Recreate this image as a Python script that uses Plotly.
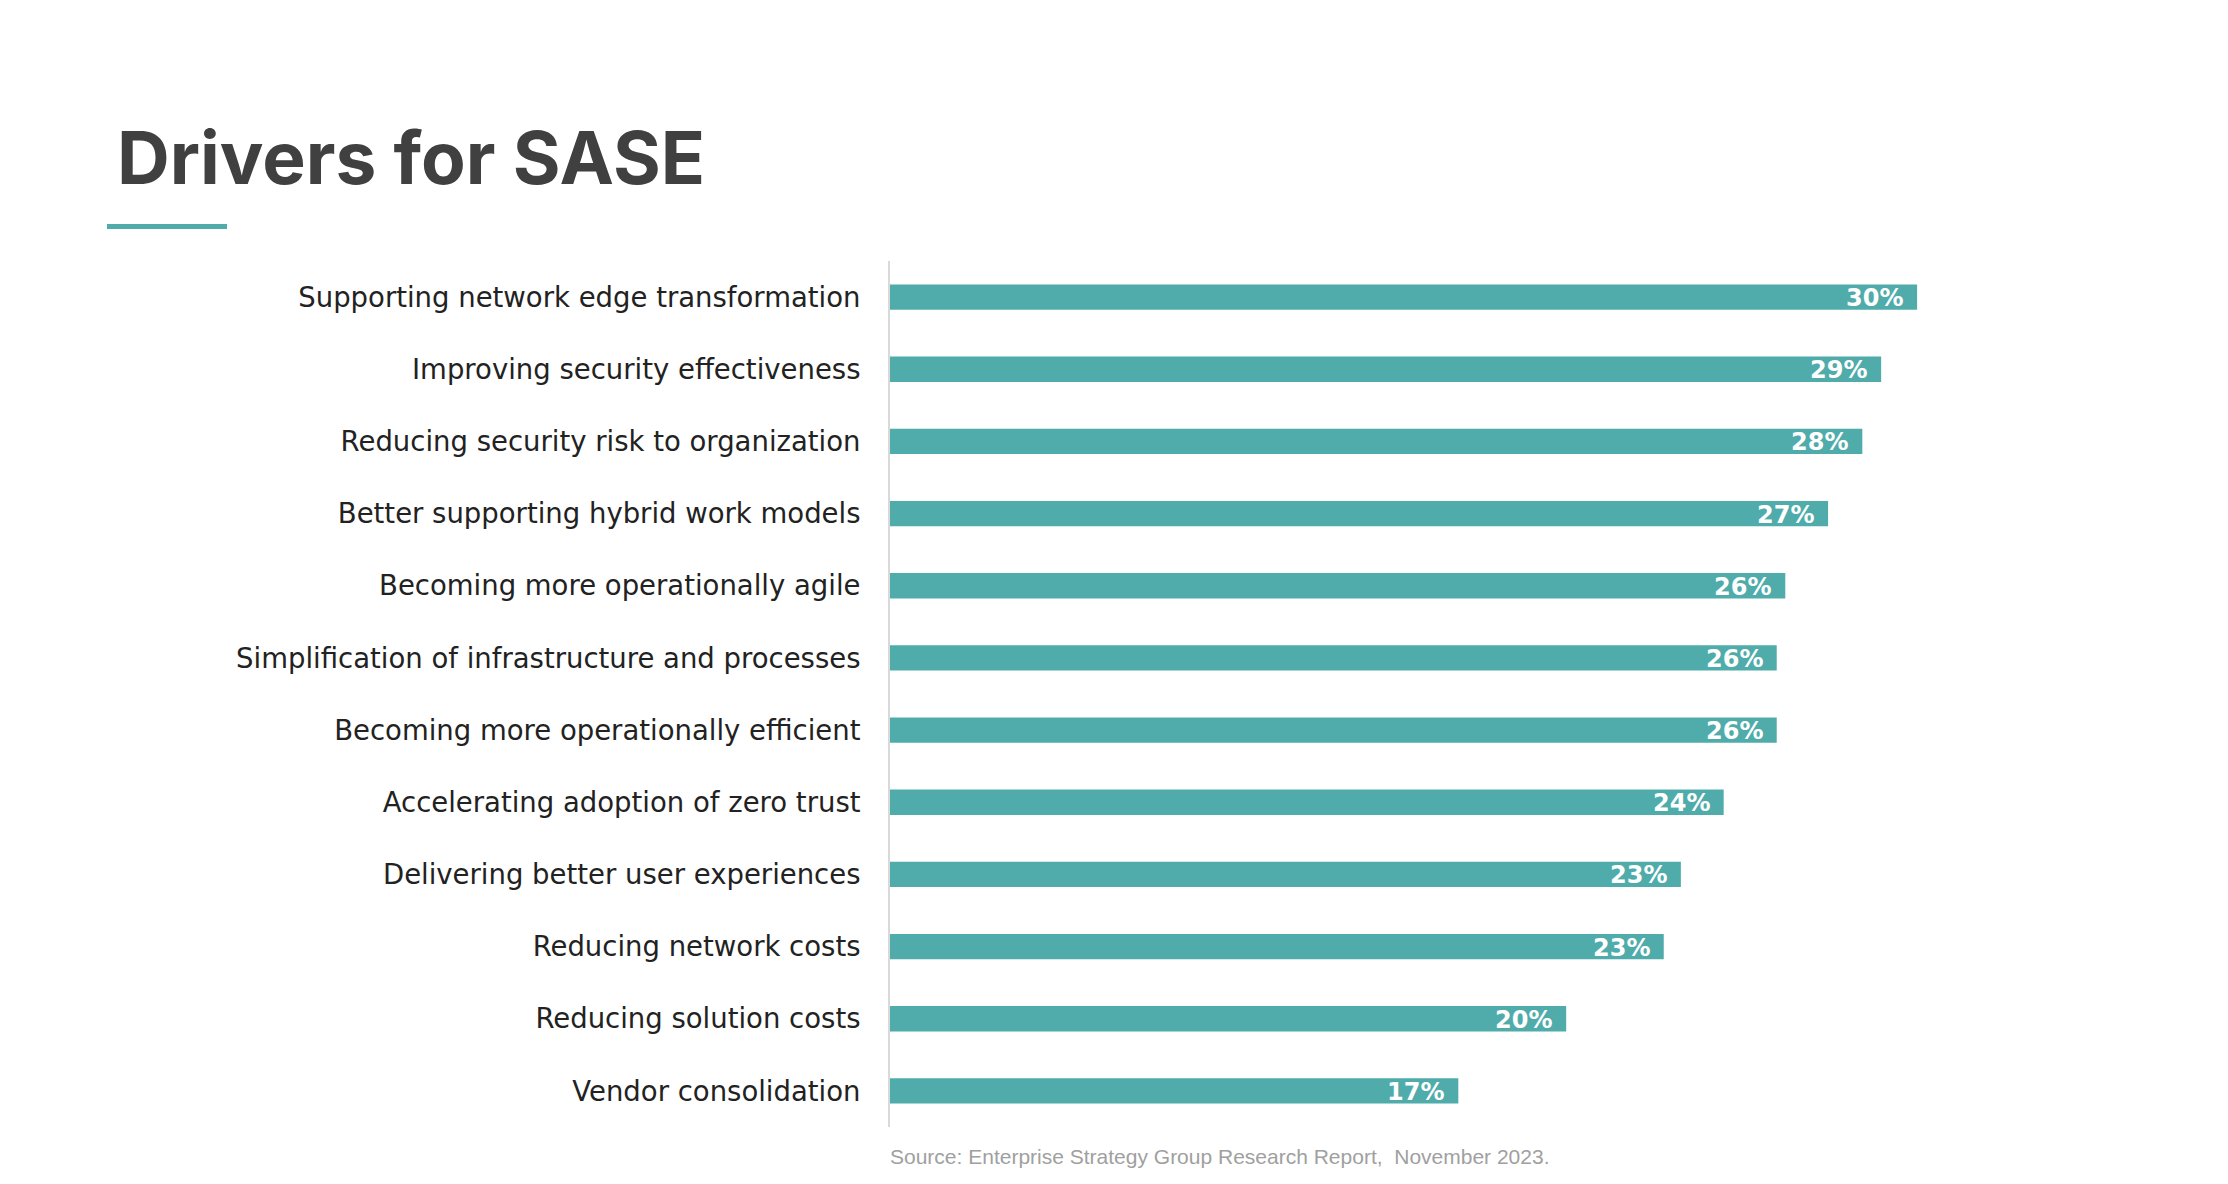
import plotly.graph_objects as go

categories = [
    "Supporting network edge transformation",
    "Improving security effectiveness",
    "Reducing security risk to organization",
    "Better supporting hybrid work models",
    "Becoming more operationally agile",
    "Simplification of infrastructure and processes",
    "Becoming more operationally efficient",
    "Accelerating adoption of zero trust",
    "Delivering better user experiences",
    "Reducing network costs",
    "Reducing solution costs",
    "Vendor consolidation",
]
values = [30.0, 28.95, 28.4, 27.4, 26.15, 25.9, 25.9, 24.35, 23.1, 22.6, 19.75, 16.6]
value_labels = ["30%", "29%", "28%", "27%", "26%", "26%", "26%", "24%", "23%", "23%", "20%", "17%"]

W, H = 2228, 1184
OFF = 8  # page body margin
L, R, T, B = 890 - OFF, 45, 261 - OFF, 65
pw = W - L - R
ph = H - T - B

def px_x(p):
    return (p - OFF - L) / pw

def px_y(p):
    return (H - B - (p - OFF)) / ph

teal = "#4FACAA"

fig = go.Figure(
    go.Bar(
        x=values,
        y=categories,
        orientation="h",
        marker=dict(color=teal, line=dict(width=0)),
        hoverinfo="skip",
    )
)

for cat, v, lab in zip(categories, values, value_labels):
    fig.add_annotation(
        x=v,
        y=cat,
        xref="x",
        yref="y",
        text=lab,
        showarrow=False,
        xanchor="right",
        yanchor="middle",
        xshift=-12,
        yshift=-1,
        font=dict(family="'DejaVu Sans', sans-serif", size=24, color="white", weight="bold"),
    )

fig.update_layout(
    width=W,
    height=H,
    margin=dict(l=L, r=R, t=T, b=B, pad=0),
    paper_bgcolor="white",
    plot_bgcolor="white",
    bargap=0.65,
    showlegend=False,
    title=dict(
        text="<b>Drivers for SASE</b>",
        font=dict(family="Inter, 'Open Sans', sans-serif", size=73, color="#404040", weight=800),
        x=(117 - OFF) / W,
        xanchor="left",
        xref="container",
        y=1 - (158 - OFF) / H,
        yanchor="middle",
        yref="container",
    ),
    xaxis=dict(visible=False, range=[0, 38], fixedrange=True),
    yaxis=dict(
        autorange="reversed",
        showline=True,
        linecolor="#D9D9D9",
        linewidth=2,
        showgrid=False,
        zeroline=False,
        ticks="",
        ticklabelstandoff=22,
        tickfont=dict(family="'DejaVu Sans', sans-serif", size=27.5, color="#222222"),
    ),
)

fig.add_shape(
    type="line",
    xref="paper",
    yref="paper",
    x0=px_x(107),
    x1=px_x(227),
    y0=px_y(226.5),
    y1=px_y(226.5),
    line=dict(color=teal, width=5),
)

fig.add_annotation(
    text="Source: Enterprise Strategy Group Research Report,  November 2023.",
    xref="paper",
    yref="paper",
    x=px_x(888),
    y=px_y(1156),
    xanchor="left",
    yanchor="middle",
    showarrow=False,
    font=dict(family="'Liberation Sans', Arial, sans-serif", size=21, color="#A0A0A0"),
)

fig.write_html("out.html")
